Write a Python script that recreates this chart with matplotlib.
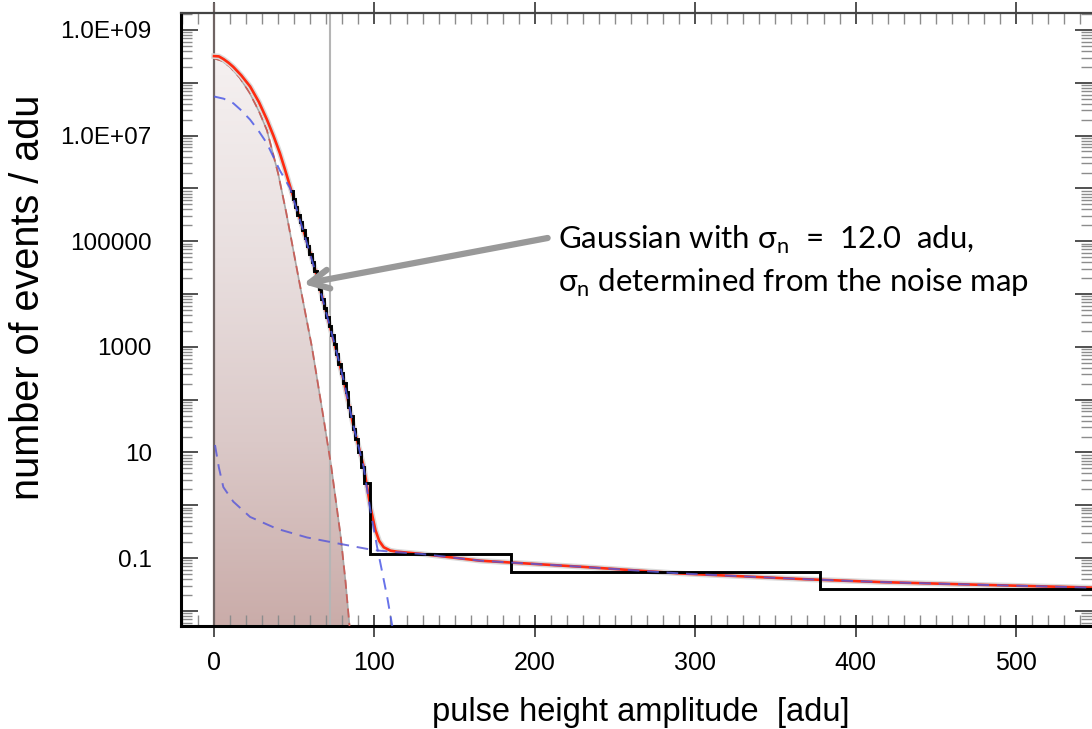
import numpy as np
import matplotlib
matplotlib.use("Agg")
import matplotlib.pyplot as plt
from matplotlib.ticker import FixedLocator, MultipleLocator, NullFormatter, LogLocator
from matplotlib.patches import Polygon
from matplotlib.colors import LinearSegmentedColormap
import matplotlib.patheffects as pe

# values (x in adu, y in events / adu)
total_x = [0, 3, 6, 9, 12, 17, 22.5, 28, 33, 37, 41, 44, 47.5, 55, 62, 68, 75.6, 80.8,
           87, 93.3, 97.5, 100.6, 103, 105.8, 110, 114, 128.8, 166, 230, 291, 366, 416,
           480, 548]
total_y = [3.2e8, 3.16e8, 2.8e8, 2.4e8, 2.0e8, 1.38e8, 8.5e7, 4.3e7, 2.0e7, 1.0e7,
           4.7e6, 2.4e6, 1.07e6, 1.9e5, 3.8e4, 7.6e3, 1000, 234, 31, 5.4, 0.93, 0.34,
           0.21, 0.16, 0.138, 0.132, 0.12, 0.089, 0.068, 0.051, 0.040, 0.035, 0.031,
           0.0275]

# noise gaussian (sigma_n = 12.0 adu)
gauss_x = [0, 5, 10, 16, 22, 28, 33, 40, 45, 53, 61, 68, 73, 79, 82, 84.5, 86]
gauss_y = [2.9e8, 2.6e8, 2.0e8, 1.25e8, 6.6e7, 2.9e7, 1.26e7, 1.9e6, 3.5e5, 1.8e4,
           1000, 50, 5.6, 0.25, 0.035, 0.005, 0.0016]

# broad signal component
broad_x = [0, 6, 12, 17, 22.5, 28, 33, 41, 47.5, 55, 62, 68, 75.6, 80.8, 87, 93.3,
           97.5, 101.7, 104.4, 108, 111, 113]
broad_y = [5.5e7, 5.0e7, 4.1e7, 3.0e7, 2.0e7, 1.2e7, 7.1e6, 2.2e6, 1.0e6, 1.8e5,
           3.5e4, 7.4e3, 1000, 234, 31, 5.2, 0.79, 0.16, 0.063, 0.018, 0.0054, 0.0025]

# tail component
tail_x = [0.6, 3, 5.8, 12, 22.5, 39, 58, 76.7, 99.6, 114, 128.8, 166, 230, 291,
          366, 416, 480, 548]
tail_y = [13.8, 5.2, 2.2, 1.17, 0.60, 0.36, 0.245, 0.19, 0.141, 0.129, 0.12, 0.089,
          0.068, 0.051, 0.040, 0.035, 0.031, 0.0275]

# measured histogram (fine bins on the steep part, wide bins on the tail)
hist_edges = [47.5, 49.0, 50.5, 52.0, 53.5, 55.0, 56.5, 58.0, 59.5, 61.0, 62.5, 64.0,
              65.5, 67.0, 68.5, 70.0, 71.5, 73.0, 74.5, 76.0, 77.5, 79.0, 80.5, 82.0,
              83.5, 85.0, 86.5, 88.0, 89.5, 91.5, 93.3, 97.5, 185, 377.5, 560]
hist_vals = [8.9e5, 6.3e5, 4.5e5, 3.2e5, 2.3e5, 1.6e5, 1.15e5, 8.1e4, 5.8e4, 4.1e4,
             2.75e4, 1.8e4, 1.23e4, 8.1e3, 5.5e3, 3.7e3, 2.5e3, 1.7e3, 1.12e3, 720, 480,
             316, 204, 138, 72, 50, 28, 18, 10, 5.4, 2.6, 0.12, 0.055, 0.026]

xticks = [0, 100, 200, 300, 400, 500]
xtick_labels = ["0", "100", "200", "300", "400", "500"]
yticks = [1e-2, 1e-1, 1, 10, 1e2, 1e3, 1e4, 1e5, 1e6, 1e7, 1e8, 1e9]
ytick_labels = ["", "0.1", "", "10", "", "1000", "", "100000", "", "1.0E+07", "", "1.0E+09"]

plt.rcParams["font.family"] = ["Liberation Sans", "DejaVu Sans"]
plt.rcParams["mathtext.fontset"] = "custom"
plt.rcParams["mathtext.rm"] = "Lato"

fig = plt.figure(figsize=(10.92, 7.29), dpi=100)
ax = fig.add_axes([181 / 1092, 1 - 625.7 / 729, 1 - 181 / 1092, (625.7 - 13.3) / 729])
ax.set_yscale("log")
ax.set_xlim(-20.6, 547.4)
ax.set_ylim(0.00523, 2.07e9)

# shaded noise gaussian with a vertical colour gradient
grad = LinearSegmentedColormap.from_list(
    "g", [(0, "#caaca9"), (0.3, "#dbc9c8"), (0.6, "#e9dfdf"), (0.9, "#f4efef"), (1, "#f9f6f6")])
img = ax.imshow(np.linspace(0, 1, 256).reshape(-1, 1), cmap=grad, origin="lower",
                extent=[0, 1, 0, 1], transform=ax.transAxes, aspect="auto", zorder=1)
poly = Polygon(list(zip(gauss_x, gauss_y)) + [(gauss_x[-1], 1e-4), (0, 1e-4)],
               closed=True, facecolor="none", edgecolor="none", transform=ax.transData)
ax.add_patch(poly)
img.set_clip_path(poly)

ax.plot(gauss_x, gauss_y, color="#a8a8a8", lw=1.2, zorder=2)
ax.plot(gauss_x, gauss_y, color="#c8605a", lw=1.3, ls=(0, (5, 3)), zorder=3)

# vertical guide lines
ax.axvline(0, ymax=1.015, color="#6f6463", lw=1.6, zorder=2, clip_on=False)
ax.axvline(72, color="#b5b5b5", lw=1.5, zorder=2)

halo = [pe.Stroke(linewidth=4, foreground="#dadada"), pe.Normal()]
ax.plot(total_x, total_y, color="#ff2a10", lw=1.9, zorder=4, path_effects=halo)
ax.stairs(hist_vals, hist_edges, baseline=None, color="black", lw=2.1, zorder=5)
ax.plot(broad_x, broad_y, color="#4d5ae6", lw=1.4, ls=(0, (6, 4)), alpha=0.85, zorder=6)
ax.plot(tail_x, tail_y, color="#5a5ad8", lw=1.4, ls=(0, (6, 4)), alpha=0.85, zorder=6)

# annotation
ax.annotate("", xy=(55.5, 1.55e4), xytext=(208, 1.15e5),
            arrowprops=dict(arrowstyle="->", lw=4.5, color="#999999", mutation_scale=34,
                            shrinkA=0, shrinkB=0),
            zorder=7)
ann_font = ["Lato", "Open Sans", "DejaVu Sans"]
ax.text(214.5, 1.05e5, "Gaussian with σ$_\\mathrm{n}$  =  12.0  adu,", fontsize=22.4,
        family=ann_font, va="center", ha="left", zorder=7)
ax.text(214.5, 1.6e4, "σ$_\\mathrm{n}$ determined from the noise map", fontsize=22.4,
        family=ann_font, va="center", ha="left", zorder=7)

# axes styling
ax.xaxis.set_major_locator(FixedLocator(xticks))
ax.set_xticklabels(xtick_labels)
ax.xaxis.set_minor_locator(MultipleLocator(10))
ax.yaxis.set_major_locator(FixedLocator(yticks))
ax.set_yticklabels(ytick_labels)
ax.yaxis.set_minor_locator(LogLocator(base=10, subs=np.arange(2, 10), numticks=30))
ax.yaxis.set_minor_formatter(NullFormatter())

ax.tick_params(axis="both", which="major", direction="in", length=12, width=1.2,
               top=True, right=True, labelsize=18, color="#333333")
ax.tick_params(axis="y", which="major", labelsize=17.5, pad=21)
ax.tick_params(axis="x", which="major", direction="inout", length=16, pad=10)
ax.tick_params(axis="both", which="minor", direction="in", length=8, width=1.0,
               top=True, right=True, color="#8c8c8c")

ax.spines["left"].set_linewidth(2.2)
ax.spines["bottom"].set_linewidth(2.2)
ax.spines["top"].set_linewidth(1.6)
ax.spines["top"].set_color("#444444")
ax.spines["right"].set_visible(False)

ax.set_xlabel("pulse height amplitude  [adu]", fontsize=23.5)
ax.xaxis.label.set_va("center")
ax.xaxis.set_label_coords(0.505, -0.141)
ax.set_ylabel("number of events / adu", fontsize=28.5)
ax.yaxis.label.set_va("center")
ax.yaxis.set_label_coords(-0.168, 0.537)

fig.savefig("out.png", dpi=100)
